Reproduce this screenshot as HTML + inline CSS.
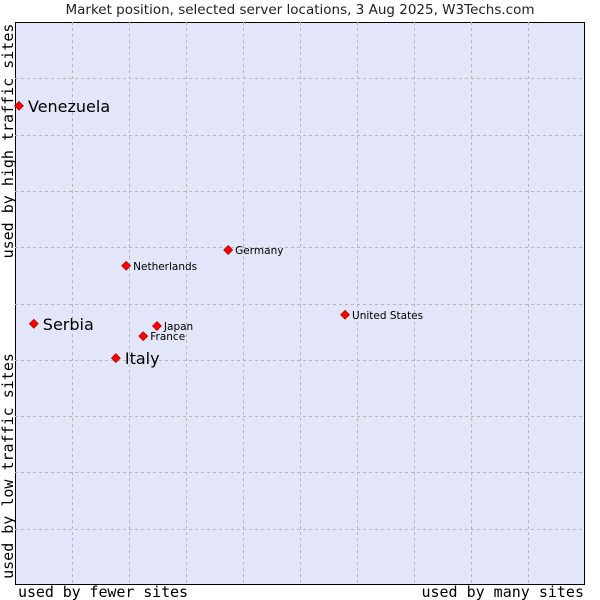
<!DOCTYPE html>
<html><head><meta charset="utf-8"><style>
body{margin:0;background:#fff}
svg{display:block}
</style></head><body>
<svg id="chart" width="600" height="600" xmlns="http://www.w3.org/2000/svg">
<rect x="0" y="0" width="600" height="600" fill="#fff"/>
<text x="300" y="14" text-anchor="middle" font-family="DejaVu Sans, sans-serif" font-size="13.5" fill="#222">Market position, selected server locations, 3 Aug 2025, W3Techs.com</text>
<rect x="15.5" y="22.5" width="569" height="562" fill="#e3e5f8" stroke="#000" stroke-width="1"/>
<g id="grid"></g>
<g id="points"></g>
<text x="18" y="597" text-anchor="start" textLength="170" font-family="DejaVu Sans Mono, monospace" font-size="15" fill="#000">used by fewer sites</text>
<text x="584" y="597" text-anchor="end" font-family="DejaVu Sans Mono, monospace" font-size="15" fill="#000">used by many sites</text>
<text transform="translate(13,141) rotate(-90)" text-anchor="middle" font-family="DejaVu Sans Mono, monospace" font-size="15" fill="#000">used by high traffic sites</text>
<text transform="translate(13,466) rotate(-90)" text-anchor="middle" font-family="DejaVu Sans Mono, monospace" font-size="15" fill="#000">used by low traffic sites</text>
</svg>
<script>
const countries=["Venezuela","Serbia","Italy","Netherlands","Germany","Japan","France","United States"];
const xValues=[0.7,3.3,17.7,19.5,37.4,24.9,22.5,57.9];
const yValues=[85.1,46.4,40.3,56.7,59.5,46.0,44.2,48.0];
const highlighted=[true,true,true,false,false,false,false,false];
const L=15,R=585,T=22,B=585;
const sx=v=>L+v/100*(R-L);
const sy=v=>B-v/100*(B-T);
const ns="http://www.w3.org/2000/svg";
const grid=document.getElementById('grid');
for(let i=1;i<10;i++){
  const v=document.createElementNS(ns,'line');
  
  
  const x=Math.round(sx(i*10))+0.5;
  v.setAttribute('x1',x);v.setAttribute('x2',x);v.setAttribute('y1',T);v.setAttribute('y2',B);
  v.setAttribute('stroke','#b8b8b8');v.setAttribute('stroke-dasharray','3,3');
  grid.appendChild(v);
  const h=document.createElementNS(ns,'line');
  
  
  const y=Math.round(sy(i*10))+0.5;
  h.setAttribute('y1',y);h.setAttribute('y2',y);h.setAttribute('x1',L);h.setAttribute('x2',R);
  h.setAttribute('stroke','#b8b8b8');h.setAttribute('stroke-dasharray','3,3');
  grid.appendChild(h);
}
const pts=document.getElementById('points');
countries.forEach((c,i)=>{
  const x=sx(xValues[i]),y=sy(yValues[i]);
  const d=document.createElementNS(ns,'path');
  
  
  d.setAttribute('d',`M${x} ${y-4.5}L${x+4.5} ${y}L${x} ${y+4.5}L${x-4.5} ${y}Z`);
  d.setAttribute('fill','#ff0000');d.setAttribute('stroke','#900');d.setAttribute('stroke-width','0.6');
  pts.appendChild(d);
  const t=document.createElementNS(ns,'text');
  
  
  const big=highlighted[i];
  t.setAttribute('x',x+(big?9:7));
  t.setAttribute('y',y+(big?6:4));
  t.setAttribute('font-family','DejaVu Sans, sans-serif');
  t.setAttribute('font-size',big?16:10.5);
  t.setAttribute('fill','#000');
  t.textContent=c;
  pts.appendChild(t);
});
</script>
</body></html>
